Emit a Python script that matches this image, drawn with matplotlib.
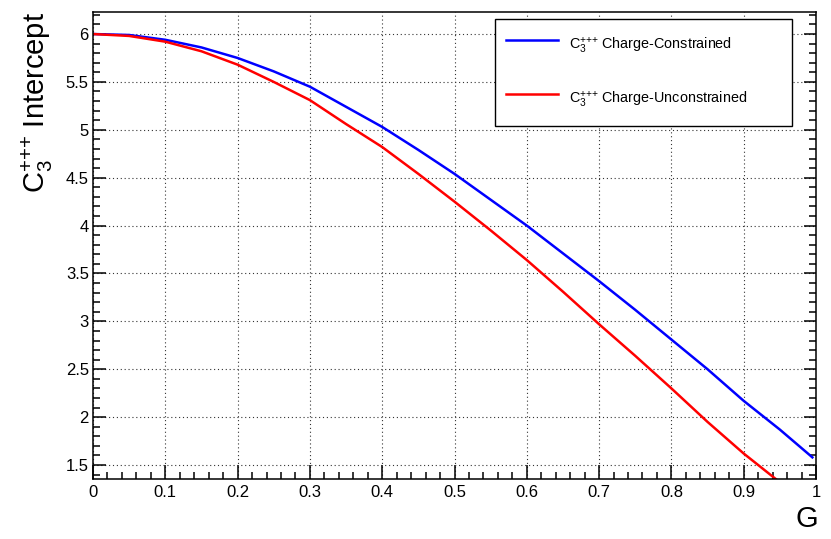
import matplotlib
matplotlib.use("Agg")
import matplotlib.pyplot as plt
from matplotlib.ticker import MultipleLocator

plt.rcParams['font.family'] = ['Liberation Sans', 'DejaVu Sans']
plt.rcParams['mathtext.default'] = 'regular'

# curve values
g_blue = [0.00, 0.05, 0.10, 0.15, 0.20, 0.25, 0.30, 0.35, 0.40, 0.45, 0.50,
          0.55, 0.60, 0.65, 0.70, 0.75, 0.80, 0.85, 0.90, 0.95, 0.995]
c3_constrained = [6.00, 5.99, 5.94, 5.86, 5.75, 5.61, 5.45, 5.24, 5.03, 4.79, 4.54,
                  4.27, 4.00, 3.71, 3.42, 3.12, 2.81, 2.50, 2.17, 1.87, 1.58]

g_red = [0.00, 0.05, 0.10, 0.15, 0.20, 0.25, 0.30, 0.35, 0.40, 0.45, 0.50,
         0.55, 0.60, 0.65, 0.70, 0.75, 0.80, 0.85, 0.90, 0.945]
c3_unconstrained = [6.00, 5.98, 5.92, 5.82, 5.68, 5.50, 5.31, 5.06, 4.82, 4.54, 4.25,
                    3.95, 3.64, 3.31, 2.97, 2.64, 2.30, 1.95, 1.62, 1.35]

c3 = 'C$_3^{{+}{+}{+}}$'
labels = [c3 + ' Charge-Constrained', c3 + ' Charge-Unconstrained']

fig = plt.figure(figsize=(8.31, 5.39), dpi=100)
ax = fig.add_axes([93 / 831, 1 - 479 / 539, 723 / 831, 467 / 539])

ax.plot(g_blue, c3_constrained, color='#0000ff', lw=1.8, label=labels[0])
ax.plot(g_red, c3_unconstrained, color='#ff0000', lw=1.8, label=labels[1])

ax.set_xlim(0, 1)
ax.set_ylim(1.354, 6.23)

ax.xaxis.set_major_locator(MultipleLocator(0.1))
ax.xaxis.set_minor_locator(MultipleLocator(0.02))
ax.yaxis.set_major_locator(MultipleLocator(0.5))
ax.yaxis.set_minor_locator(MultipleLocator(0.1))
ax.xaxis.set_major_formatter(plt.FuncFormatter(lambda v, p: f'{v:g}'))
ax.yaxis.set_major_formatter(plt.FuncFormatter(lambda v, p: f'{v:g}'))

ax.tick_params(which='both', direction='in', right=True, top=False,
               labelsize=12, width=1.1)
ax.tick_params(axis='x', which='major', length=10, pad=4)
ax.tick_params(axis='y', which='major', length=9, pad=3)
ax.tick_params(which='minor', length=5)
for s in ax.spines.values():
    s.set_linewidth(1.1)

ax.grid(True, which='major', color='#333333', linestyle=(0, (1, 2.5)), lw=0.8)

ax.set_ylabel(c3 + ' Intercept', fontsize=21, loc='top')
ax.yaxis.set_label_coords(-0.052, 1.0)
ax.set_xlabel('G', fontsize=21, loc='right')
ax.xaxis.set_label_coords(1.003, -0.055)

ax.legend(loc='upper left', bbox_to_anchor=(0.556, 0.709, 0.411, 0.275),
          mode='expand', borderaxespad=0, fancybox=False, edgecolor='black',
          framealpha=1, fontsize=10.4, handlelength=3.6, handletextpad=0.76,
          handleheight=2.93, labelspacing=1.56, borderpad=0.75)
ax.get_legend().get_frame().set_linewidth(1.0)

fig.savefig('out.png', dpi=100)
